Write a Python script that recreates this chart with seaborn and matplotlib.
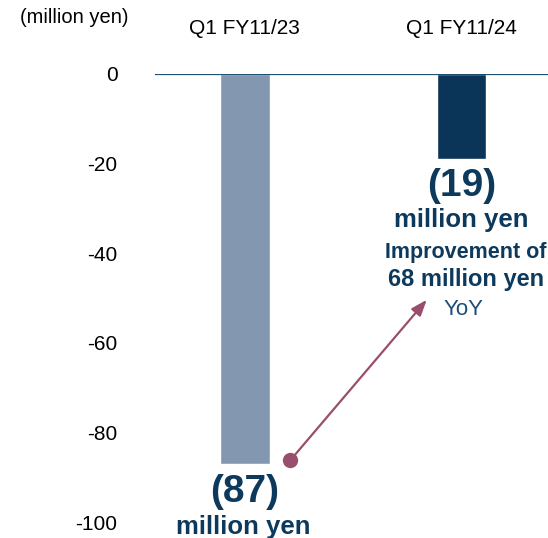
import matplotlib
matplotlib.use("Agg")
import matplotlib.pyplot as plt
import seaborn as sns
import pandas as pd

# Quarterly operating result (million yen)
periods = ["Q1 FY11/23", "Q1 FY11/24"]
results = [-87, -19]
y_ticks = [0, -20, -40, -60, -80, -100]
improvement = results[1] - results[0]

bar_colors = ["#8497B0", "#0B3558"]
text_navy = "#0D3A5C"
arrow_color = "#9A4E6E"

sns.set_theme(style="white")
plt.rcParams["font.family"] = ["Liberation Sans", "DejaVu Sans"]

df = pd.DataFrame({"period": periods, "result": results})

fig = plt.figure(figsize=(5.48, 5.38), dpi=100)
ax = fig.add_axes([0.283, 0.0297, 0.717, 0.8328])

sns.barplot(data=df, x="period", y="result", hue="period",
            palette=bar_colors, width=0.23, legend=False, ax=ax,
            saturation=1)

ax.set_xlim(-0.415, 1.40)
ax.set_ylim(-100, 0)
ax.set_yticks(y_ticks)
ax.set_yticklabels([f"{t}" for t in y_ticks], fontsize=15, color="black")
ax.tick_params(axis="y", length=0, pad=27)
ax.xaxis.tick_top()
ax.tick_params(axis="x", length=0, pad=26, labelsize=15, labelcolor="black")
ax.set_xlabel("")
ax.set_ylabel("")
for s in ax.spines.values():
    s.set_visible(False)
ax.axhline(0, color="#1F4E6F", lw=1.6, zorder=3)

fig.text(0.136, 0.968, "(million yen)", ha="center", va="center",
         fontsize=14.5, color="black")

# Value labels under each bar
def neg(v):
    return f"({abs(v)})"

ax.text(0, results[0] - 6.3, neg(results[0]), ha="center", va="center",
        fontsize=28, fontweight="bold", color=text_navy, clip_on=False)
ax.text(-0.01, results[0] - 14.1, "million yen", ha="center", va="center",
        fontsize=18.5, fontweight="bold", color=text_navy, clip_on=False)

ax.text(1, results[1] - 5.9, neg(results[1]), ha="center", va="center",
        fontsize=28, fontweight="bold", color=text_navy)
ax.text(1, results[1] - 13.6, "million yen", ha="center", va="center",
        fontsize=18.5, fontweight="bold", color=text_navy)
ax.text(1.02, -39.9, "Improvement of", ha="center", va="center",
        fontsize=15.5, fontweight="bold", color=text_navy)
ax.text(1.02, -45.9, f"{improvement} million yen", ha="center", va="center",
        fontsize=17, fontweight="bold", color=text_navy)
ax.text(1.01, -52.6, "YoY", ha="center", va="center",
        fontsize=16, color="#1F4E79")

# Improvement arrow
ax.annotate("", xy=(0.84, -50.4), xytext=(0.21, -86.2),
            arrowprops=dict(arrowstyle="-|>,head_length=0.8,head_width=0.3",
                            color=arrow_color, lw=1.6, shrinkA=0, shrinkB=0))
ax.plot([0.21], [-86.2], "o", color=arrow_color, markersize=10, zorder=4)

fig.savefig("out.png", dpi=100)
